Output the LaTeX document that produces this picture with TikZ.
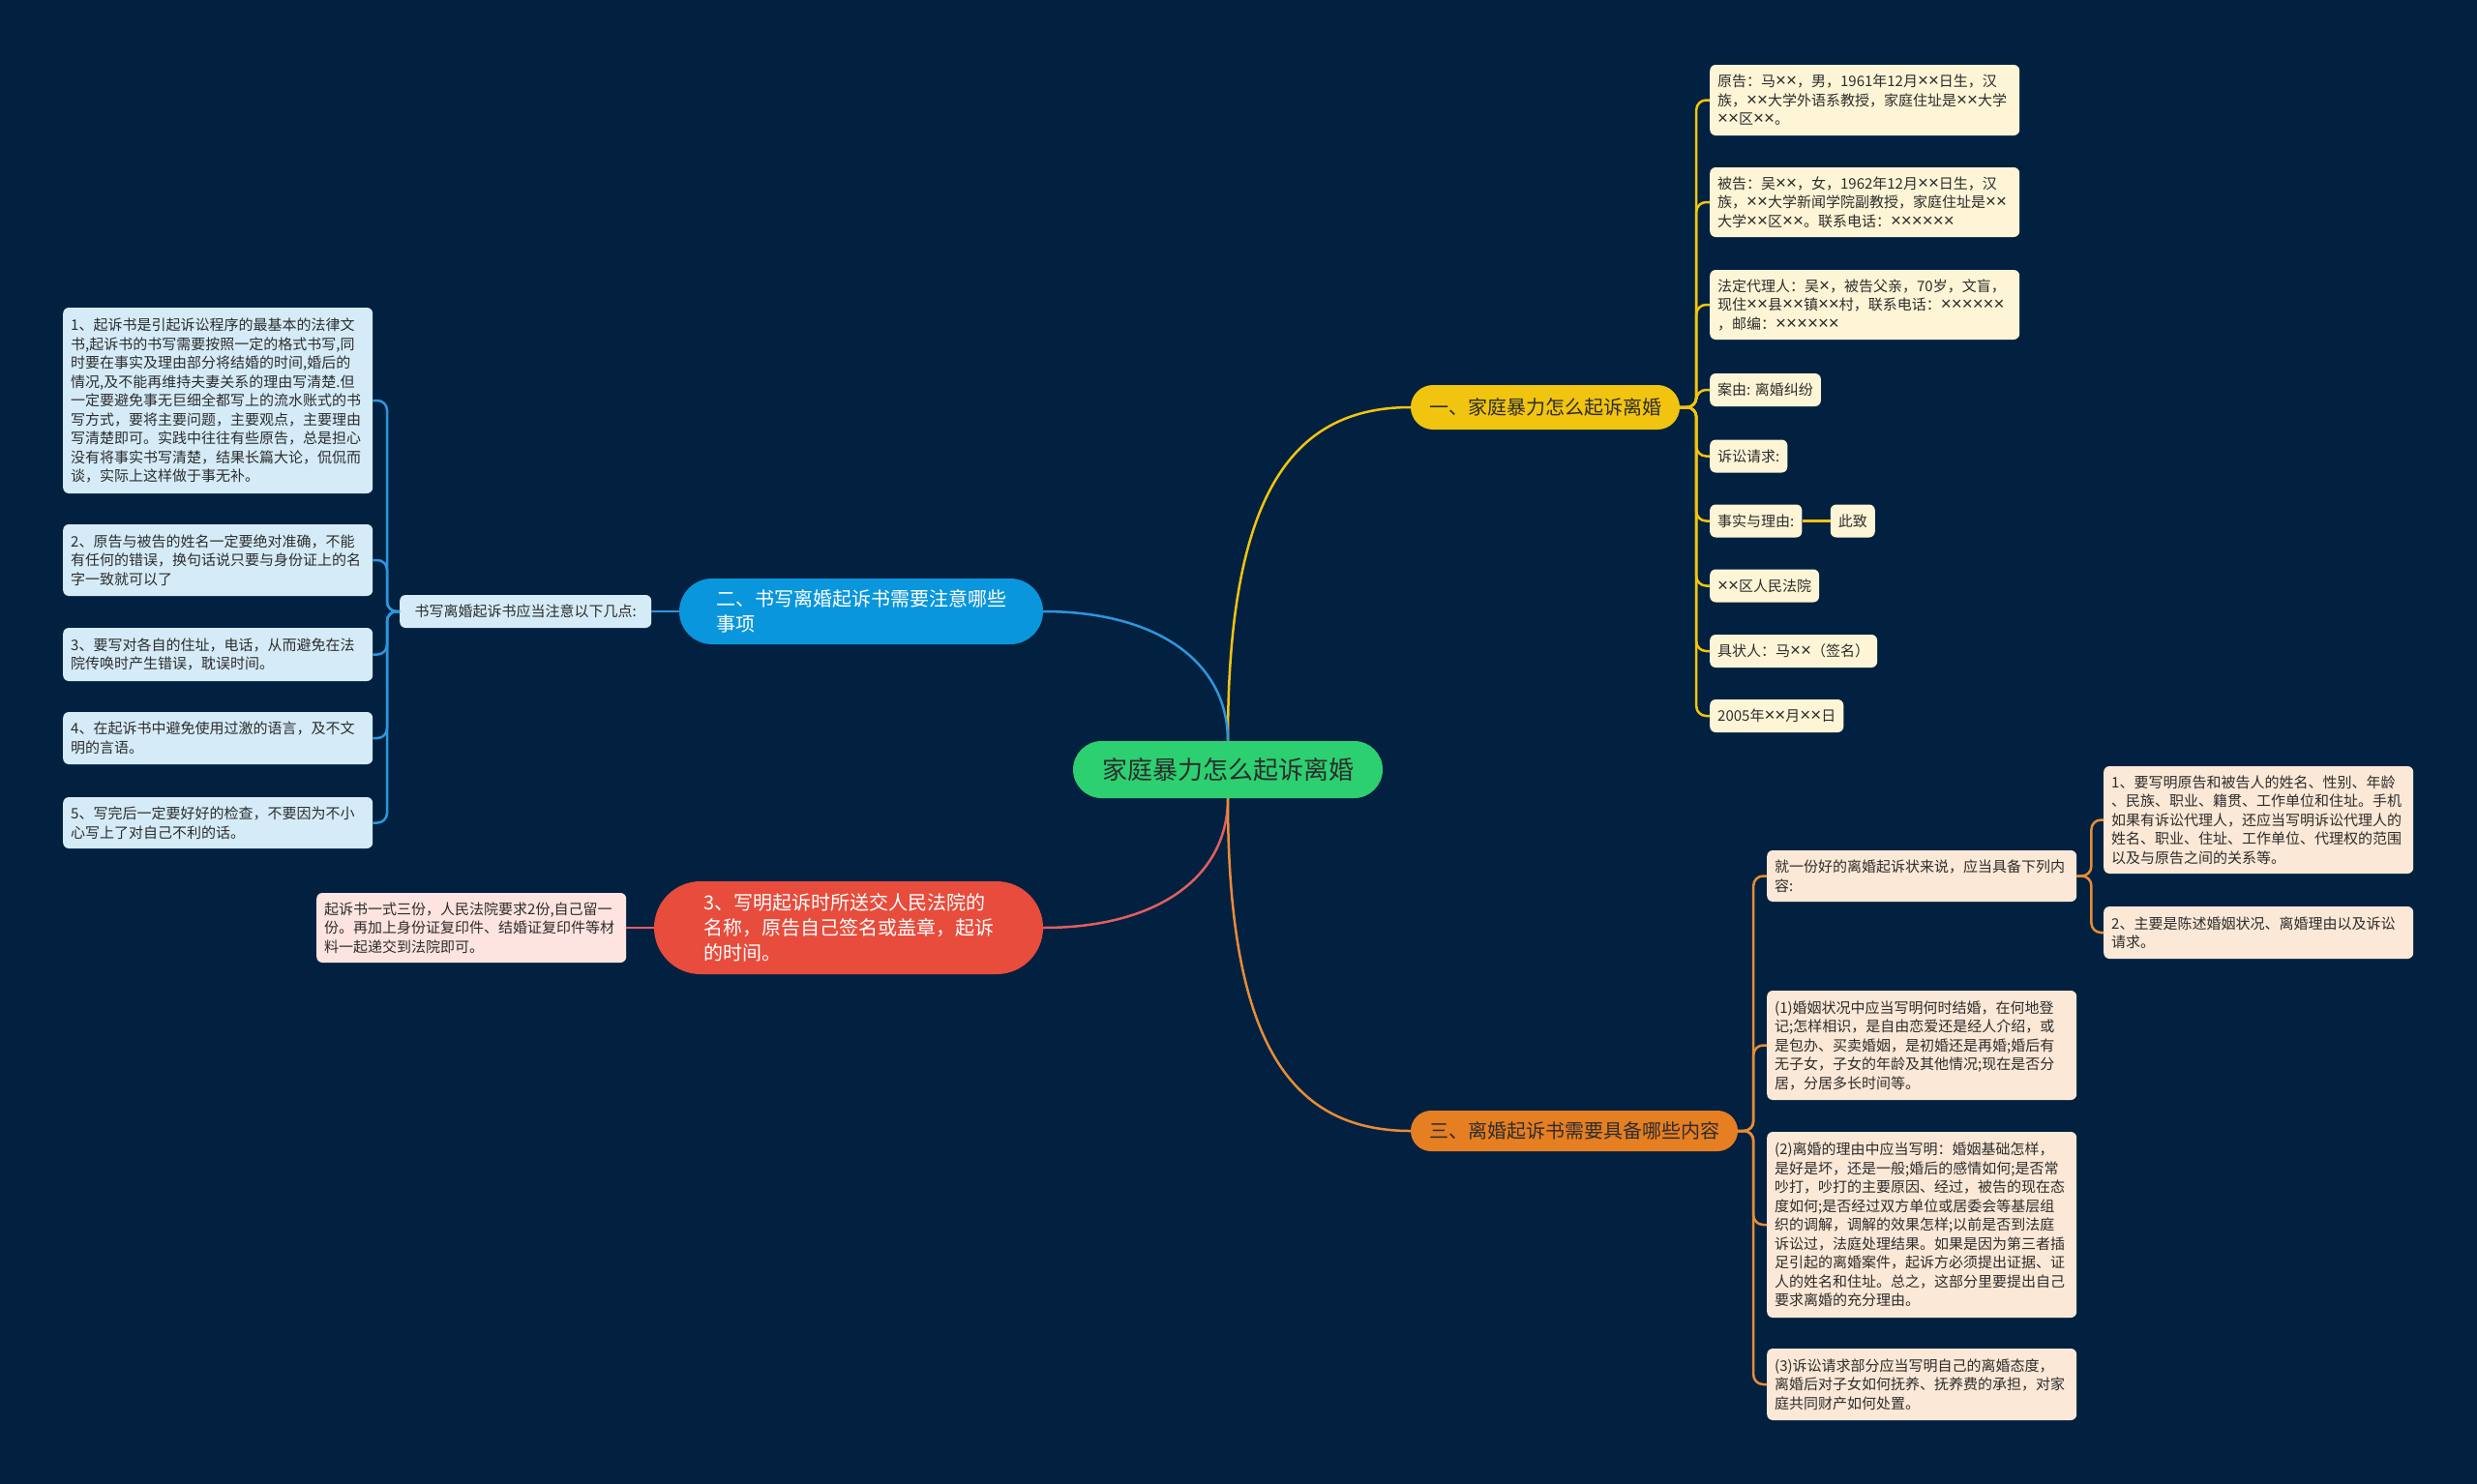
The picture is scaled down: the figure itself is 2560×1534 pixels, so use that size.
\documentclass[tikz,border=0pt]{standalone}
\usepackage{fontspec}
\setmainfont{Noto Sans CJK SC}
\newfontfamily\latinfont[Scale=1.25]{Liberation Sans}
\newcommand{\tms}{{\latinfont ×}}
\usepackage{tikz}
\usetikzlibrary{
  positioning,
  shapes.misc
}
\usepackage{xcolor}
\definecolor{navybg}   {RGB}{2,   33,  64}
\definecolor{rootgreen}{RGB}{44, 208, 112}
\definecolor{suitgold} {RGB}{241, 196,  15}
\definecolor{noteblue} {RGB}{10, 150, 220}
\definecolor{courtred} {RGB}{231,  76,  60}
\definecolor{needorange}{RGB}{230, 126,  34}
\definecolor{inkdark}  {RGB}{45,  45,  45}
\definecolor{lemon}    {RGB}{253, 245, 214}
\definecolor{icyblue}  {RGB}{213, 236, 248}
\definecolor{blush}    {RGB}{253, 228, 224}
\definecolor{peach}    {RGB}{251, 232, 214}
\definecolor{linkblue} {RGB}{45,  150, 220}
\definecolor{linkred}  {RGB}{225,  95,  95}
\definecolor{linkorange}{RGB}{232, 140,  55}
\tikzset{
  topic/.style={
    rounded rectangle, fill=#1, inner xsep=0pt,
    align=left, font=\fontsize{20}{26}\selectfont
  },
  leaf/.style={
    fill=#1, text=inkdark, rounded corners=6pt, anchor=west,
    inner xsep=8pt, inner ysep=3pt, minimum height=34pt,
    align=left, font=\fontsize{15}{19.5}\selectfont
  },
  wideleaf/.style={leaf=#1, text width=304pt},
  link/.style={draw=#1, line width=2.5pt},
  fork/.style={link=#1, rounded corners=10pt},
}

\begin{document}
\begin{tikzpicture}[x=1pt, y=-1pt]

\fill[navybg] (0,0) rectangle (2560,1534);
\useasboundingbox (0,0) rectangle (2560,1534);

% ── Root and main topics ──────────────────────────────────────────────────────
\node[topic=rootgreen, text=inkdark, minimum width=320pt, minimum height=59pt,
      font=\fontsize{26}{30}\selectfont] (root) at (1269,795.5) {家庭暴力怎么起诉离婚};

\node[topic=suitgold, text=inkdark, minimum width=278pt, minimum height=46pt]
  (suit) at (1597,421) {一、家庭暴力怎么起诉离婚};
\node[topic=noteblue, text=white, minimum width=376pt, minimum height=68pt]
  (notes) at (890,632) {二、书写离婚起诉书需要注意哪些\\事项};
\node[topic=courtred, text=white, minimum width=402pt, minimum height=96pt]
  (court) at (877,959) {3、写明起诉时所送交人民法院的\\名称，原告自己签名或盖章，起诉\\的时间。};
\node[topic=needorange, text=inkdark, minimum width=338pt, minimum height=42pt]
  (content) at (1627,1169) {三、离婚起诉书需要具备哪些内容};

% ── Root links ────────────────────────────────────────────────────────────────
\draw[link=suitgold]   (root.north) .. controls +(0,-246) and +(-128,0) .. (suit.west);
\draw[link=linkblue]   (notes.east) .. controls +(120,0) and +(0,-80) .. (root.north);
\draw[link=linkred]    (court.east) .. controls +(120,0) and +(0,80) .. (root.south);
\draw[link=linkorange] (root.south) .. controls +(0,246) and +(-128,0) .. (content.west);

% ── Topic one: the complaint form ─────────────────────────────────────────────
\node[wideleaf=lemon, minimum height=73pt] (plaintiff) at (1767,103.5) {
  原告：马\tms{}\tms{}，男，1961年12月\tms{}\tms{}日生，汉\\
  族，\tms{}\tms{}大学外语系教授，家庭住址是\tms{}\tms{}大学\\
  \tms{}\tms{}区\tms{}\tms{}。
};
\node[wideleaf=lemon, minimum height=72pt] (defendant) at (1767,209) {
  被告：吴\tms{}\tms{}，女，1962年12月\tms{}\tms{}日生，汉\\
  族，\tms{}\tms{}大学新闻学院副教授，家庭住址是\tms{}\tms{}\\
  大学\tms{}\tms{}区\tms{}\tms{}。联系电话：\tms{}\tms{}\tms{}\tms{}\tms{}\tms{}
};
\node[wideleaf=lemon, minimum height=72pt] (agent) at (1767,315) {
  法定代理人：吴\tms{}，被告父亲，70岁，文盲，\\
  现住\tms{}\tms{}县\tms{}\tms{}镇\tms{}\tms{}村，联系电话：\tms{}\tms{}\tms{}\tms{}\tms{}\tms{}\\
  ，邮编：\tms{}\tms{}\tms{}\tms{}\tms{}\tms{}
};
\node[leaf=lemon] (cause)     at (1767,403)   {案由: 离婚纠纷};
\node[leaf=lemon] (claim)     at (1767,471.5) {诉讼请求:};
\node[leaf=lemon] (facts)     at (1767,538.5) {事实与理由:};
\node[leaf=lemon, right=29pt of facts] (salute) {此致};
\node[leaf=lemon] (courtname) at (1767,605.5) {\tms{}\tms{}区人民法院};
\node[leaf=lemon] (signer)    at (1767,673)   {具状人：马\tms{}\tms{}（签名）};
\node[leaf=lemon] (date)      at (1767,740)   {2005年\tms{}\tms{}月\tms{}\tms{}日};

\draw[fork=suitgold] (suit.east) -- ++(17,0) |- (plaintiff.west);
\draw[fork=suitgold] (suit.east) -- ++(17,0) |- (defendant.west);
\draw[fork=suitgold] (suit.east) -- ++(17,0) |- (agent.west);
\draw[fork=suitgold] (suit.east) -- ++(17,0) |- (cause.west);
\draw[fork=suitgold] (suit.east) -- ++(17,0) |- (claim.west);
\draw[fork=suitgold] (suit.east) -- ++(17,0) |- (facts.west);
\draw[fork=suitgold] (suit.east) -- ++(17,0) |- (courtname.west);
\draw[fork=suitgold] (suit.east) -- ++(17,0) |- (signer.west);
\draw[fork=suitgold] (suit.east) -- ++(17,0) |- (date.west);
\draw[link=suitgold] (facts.east) -- (salute.west);

% ── Topic two: writing notes ──────────────────────────────────────────────────
\node[leaf=icyblue, minimum width=260pt] (notehead) at (413,632) {书写离婚起诉书应当注意以下几点:};

\node[wideleaf=icyblue, minimum height=192pt] (note1) at (65,414) {
  1、起诉书是引起诉讼程序的最基本的法律文\\
  书,起诉书的书写需要按照一定的格式书写,同\\
  时要在事实及理由部分将结婚的时间,婚后的\\
  情况,及不能再维持夫妻关系的理由写清楚.但\\
  一定要避免事无巨细全都写上的流水账式的书\\
  写方式，要将主要问题，主要观点，主要理由\\
  写清楚即可。实践中往往有些原告，总是担心\\
  没有将事实书写清楚，结果长篇大论，侃侃而\\
  谈，实际上这样做于事无补。
};
\node[wideleaf=icyblue, minimum height=74pt] (note2) at (65,579) {
  2、原告与被告的姓名一定要绝对准确，不能\\
  有任何的错误，换句话说只要与身份证上的名\\
  字一致就可以了
};
\node[wideleaf=icyblue, minimum height=55pt] (note3) at (65,676.5) {
  3、要写对各自的住址，电话，从而避免在法\\
  院传唤时产生错误，耽误时间。
};
\node[wideleaf=icyblue, minimum height=54pt] (note4) at (65,763) {
  4、在起诉书中避免使用过激的语言，及不文\\
  明的言语。
};
\node[wideleaf=icyblue, minimum height=53pt] (note5) at (65,850.5) {
  5、写完后一定要好好的检查，不要因为不小\\
  心写上了对自己不利的话。
};

\draw[link=linkblue] (notes.west) -- (notehead.east);
\draw[fork=linkblue] (notehead.west) -- ++(-13,0) |- (note1.east);
\draw[fork=linkblue] (notehead.west) -- ++(-13,0) |- (note2.east);
\draw[fork=linkblue] (notehead.west) -- ++(-13,0) |- (note3.east);
\draw[fork=linkblue] (notehead.west) -- ++(-13,0) |- (note4.east);
\draw[fork=linkblue] (notehead.west) -- ++(-13,0) |- (note5.east);

% ── Topic three: filing ───────────────────────────────────────────────────────
\node[wideleaf=blush, minimum height=72pt] (filing) at (327,959) {
  起诉书一式三份，人民法院要求2份,自己留一\\
  份。再加上身份证复印件、结婚证复印件等材\\
  料一起递交到法院即可。
};
\draw[link=linkred] (court.west) -- (filing.east);

% ── Topic four: required content ──────────────────────────────────────────────
\node[wideleaf=peach, minimum height=53pt] (need) at (1826,905.5) {
  就一份好的离婚起诉状来说，应当具备下列内\\
  容:
};
\node[wideleaf=peach, minimum height=111pt] (need1) at (2174,847.5) {
  1、要写明原告和被告人的姓名、性别、年龄\\
  、民族、职业、籍贯、工作单位和住址。手机\\
  如果有诉讼代理人，还应当写明诉讼代理人的\\
  姓名、职业、住址、工作单位、代理权的范围\\
  以及与原告之间的关系等。
};
\node[wideleaf=peach, minimum height=54pt] (need2) at (2174,964) {
  2、主要是陈述婚姻状况、离婚理由以及诉讼\\
  请求。
};
\node[wideleaf=peach, minimum height=113pt] (part1) at (1826,1080.5) {
  (1)婚姻状况中应当写明何时结婚，在何地登\\
  记;怎样相识，是自由恋爱还是经人介绍，或\\
  是包办、买卖婚姻，是初婚还是再婚;婚后有\\
  无子女，子女的年龄及其他情况;现在是否分\\
  居，分居多长时间等。
};
\node[wideleaf=peach, minimum height=192pt] (part2) at (1826,1266) {
  (2)离婚的理由中应当写明：婚姻基础怎样，\\
  是好是坏，还是一般;婚后的感情如何;是否常\\
  吵打，吵打的主要原因、经过，被告的现在态\\
  度如何;是否经过双方单位或居委会等基层组\\
  织的调解，调解的效果怎样;以前是否到法庭\\
  诉讼过，法庭处理结果。如果是因为第三者插\\
  足引起的离婚案件，起诉方必须提出证据、证\\
  人的姓名和住址。总之，这部分里要提出自己\\
  要求离婚的充分理由。
};
\node[wideleaf=peach, minimum height=74pt] (part3) at (1826,1431) {
  (3)诉讼请求部分应当写明自己的离婚态度，\\
  离婚后对子女如何抚养、抚养费的承担，对家\\
  庭共同财产如何处置。
};

\draw[fork=linkorange] (content.east) -- ++(16,0) |- (need.west);
\draw[fork=linkorange] (content.east) -- ++(16,0) |- (part1.west);
\draw[fork=linkorange] (content.east) -- ++(16,0) |- (part2.west);
\draw[fork=linkorange] (content.east) -- ++(16,0) |- (part3.west);
\draw[fork=linkorange] (need.east) -- ++(15,0) |- (need1.west);
\draw[fork=linkorange] (need.east) -- ++(15,0) |- (need2.west);

\end{tikzpicture}
\end{document}
